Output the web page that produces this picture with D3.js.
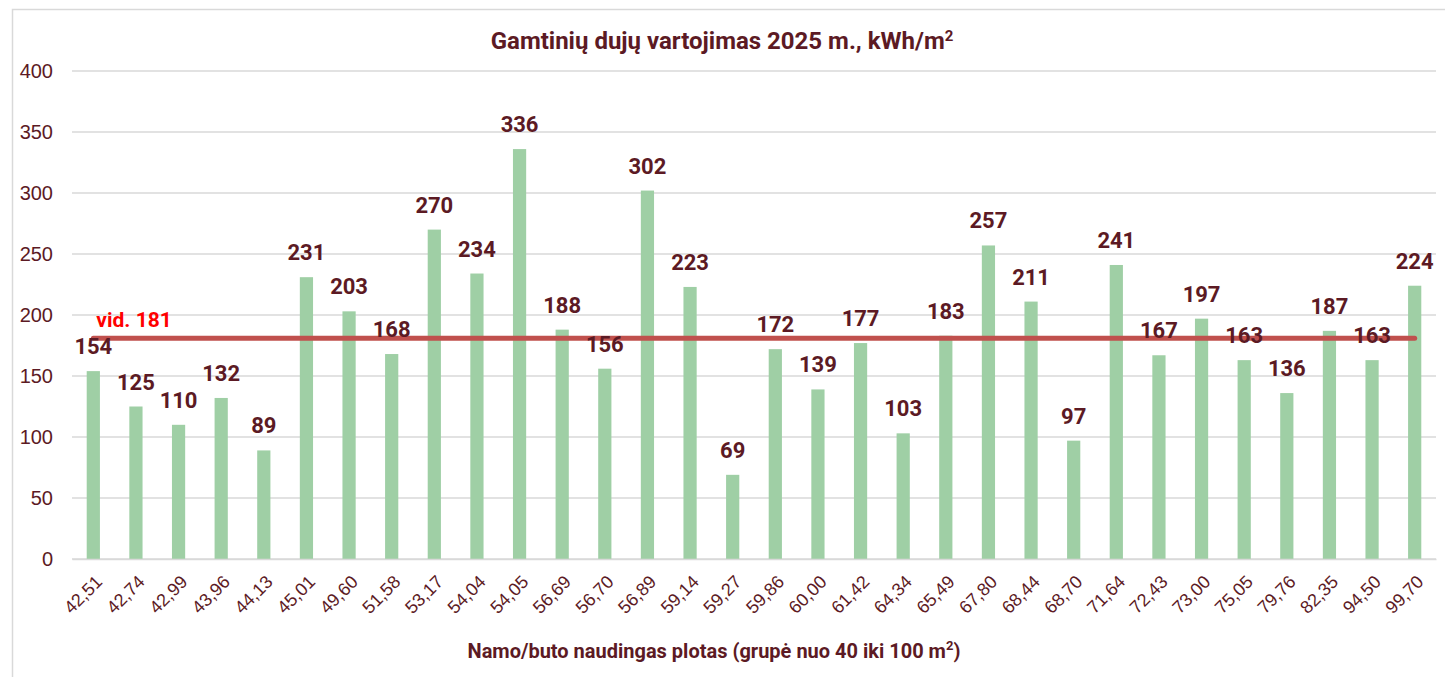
<!DOCTYPE html>
<html>
<head>
<meta charset="utf-8">
<script src="https://cdn.jsdelivr.net/npm/d3@7"></script>
<style>
  body { margin: 0; background: #fff; }
  svg { display: block; }
</style>
</head>
<body>
<div id="chart"></div>
<script>
// Chart data
const areas = ["42,51", "42,74", "42,99", "43,96", "44,13", "45,01", "49,60", "51,58", "53,17", "54,04",
    "54,05", "56,69", "56,70", "56,89", "59,14", "59,27", "59,86", "60,00", "61,42", "64,34",
    "65,49", "67,80", "68,44", "68,70", "71,64", "72,43", "73,00", "75,05", "79,76", "82,35",
    "94,50", "99,70"];
const consumption = [154, 125, 110, 132, 89, 231, 203, 168, 270, 234,
    336, 188, 156, 302, 223, 69, 172, 139, 177, 103,
    183, 257, 211, 97, 241, 167, 197, 163, 136, 187,
    163, 224];
const average = 181;
const yTicks = [0, 50, 100, 150, 200, 250, 300, 350, 400];

const W = 1445, H = 677;
const margin = { top: 71, right: 9, bottom: 118, left: 72 };
const width = W - margin.left - margin.right;
const height = H - margin.top - margin.bottom;

const textColor = "#5c1a24";
const barColor = "#9fcfa5";
const gridColor = "#d9d9d9";

const svg = d3.select("#chart").append("svg")
    .attr("width", W)
    .attr("height", H);

// outer chart border (clipped by the picture at right and bottom)
svg.append("path")
    .attr("d", `M12.5,${H + 5} L12.5,9.5 L${W + 5},9.5`)
    .attr("fill", "none")
    .attr("stroke", gridColor)
    .attr("stroke-width", 1.5);

const g = svg.append("g")
    .attr("transform", `translate(${margin.left},${margin.top})`);

const data = areas.map((a, i) => ({ area: a, value: consumption[i] }));

const x = d3.scaleBand()
    .domain(areas)
    .range([0, width])
    .paddingInner(0.69)
    .paddingOuter(0.345);

const y = d3.scaleLinear()
    .domain([0, 400])
    .range([height, 0]);

// gridlines
g.append("g")
    .selectAll("line")
    .data(yTicks)
    .enter().append("line")
    .attr("x1", 0)
    .attr("x2", width)
    .attr("y1", d => y(d))
    .attr("y2", d => y(d))
    .attr("stroke", gridColor)
    .attr("stroke-width", 1.5);

// Y axis labels
const yAxis = g.append("g")
    .call(d3.axisLeft(y).tickValues(yTicks).tickSize(0).tickPadding(19));
yAxis.select(".domain").remove();
yAxis.selectAll("text")
    .attr("fill", textColor)
    .style("font-family", "'Liberation Sans', Arial, sans-serif")
    .style("font-size", "20px");

// bars
g.selectAll(".bar")
    .data(data)
    .enter().append("rect")
    .attr("class", "bar")
    .attr("x", d => x(d.area))
    .attr("width", x.bandwidth())
    .attr("y", d => y(d.value))
    .attr("height", d => height - y(d.value))
    .attr("fill", barColor);

// X axis
const xAxis = g.append("g")
    .attr("transform", `translate(0,${height})`)
    .call(d3.axisBottom(x).tickSize(0));
xAxis.select(".domain").attr("stroke", gridColor).attr("stroke-width", 1.5);
xAxis.selectAll("text")
    .attr("fill", textColor)
    .style("font-family", "'Liberation Sans', Arial, sans-serif")
    .style("font-size", "18px")
    .attr("text-anchor", "end")
    .attr("dy", null)
    .attr("y", 0)
    .attr("transform", "translate(10,24) rotate(-45)");

// average line
const first = x(areas[0]) + x.bandwidth() / 2;
const last = x(areas[areas.length - 1]) + x.bandwidth() / 2;
g.append("line")
    .attr("x1", first)
    .attr("x2", last)
    .attr("y1", y(average))
    .attr("y2", y(average))
    .attr("stroke", "#c0504d")
    .attr("stroke-width", 5)
    .attr("stroke-linecap", "round");

// value labels
g.selectAll(".val")
    .data(data)
    .enter().append("text")
    .attr("class", "val")
    .attr("x", d => x(d.area) + x.bandwidth() / 2)
    .attr("y", d => y(d.value) - 17)
    .attr("text-anchor", "middle")
    .attr("fill", textColor)
    .style("font-family", "Roboto, sans-serif")
    .style("font-weight", "bold")
    .style("font-size", "22px")
    .text(d => d.value);

// average label
g.append("text")
    .attr("x", first + 3)
    .attr("y", y(average) - 11)
    .attr("fill", "#ff0000")
    .style("font-family", "Roboto, sans-serif")
    .style("font-weight", "bold")
    .style("font-size", "21px")
    .text(`vid. ${average}`);

// title
const title = svg.append("text")
    .attr("x", 722)
    .attr("y", 49)
    .attr("text-anchor", "middle")
    .attr("fill", textColor)
    .style("font-family", "Roboto, sans-serif")
    .style("font-weight", "bold")
    .style("font-size", "24px");
title.append("tspan").text("Gamtinių dujų vartojimas 2025 m., kWh/m");
title.append("tspan").attr("dy", -8).style("font-size", "15px").text("2");

// x axis title
const xt = svg.append("text")
    .attr("x", 714)
    .attr("y", 658)
    .attr("text-anchor", "middle")
    .attr("fill", textColor)
    .style("font-family", "Roboto, sans-serif")
    .style("font-weight", "bold")
    .style("font-size", "20px");
xt.append("tspan").text("Namo/buto naudingas plotas (grupė nuo 40 iki 100 m");
xt.append("tspan").attr("dy", -8).style("font-size", "13px").text("2");
xt.append("tspan").attr("dy", 8).text(")");
</script>
</body>
</html>
